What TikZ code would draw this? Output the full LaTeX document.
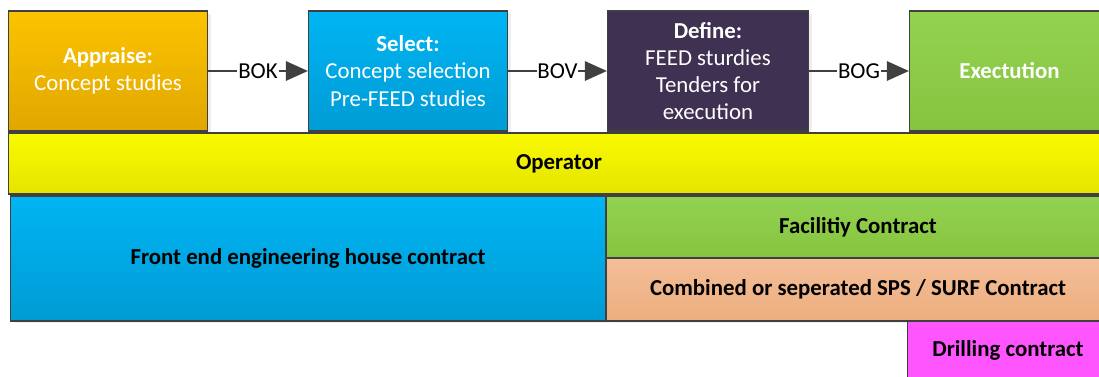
\documentclass[tikz,border=0pt]{standalone}
\usepackage{fontspec}
\setmainfont{Carlito}
\usetikzlibrary{arrows.meta,positioning,shadows}

\definecolor{edgegray}{HTML}{404040}
\definecolor{appraisetop}{HTML}{FCC300}
\definecolor{appraisebot}{HTML}{E0A700}
\definecolor{selecttop}{HTML}{00B5F3}
\definecolor{selectbot}{HTML}{009BD5}
\definecolor{definefill}{HTML}{3F3151}
\definecolor{greentop}{HTML}{93D251}
\definecolor{greenbot}{HTML}{86C43F}
\definecolor{optop}{HTML}{FAFA00}
\definecolor{opbot}{HTML}{E4E400}
\definecolor{peachtop}{HTML}{F4BE98}
\definecolor{peachbot}{HTML}{ECAE7E}
\definecolor{drillfill}{HTML}{FF55FF}

\begin{document}
\begin{tikzpicture}[x=0.02cm,y=-0.02cm,
  font=\fontsize{13}{15.5}\selectfont,
  box/.style={draw=edgegray,line width=0.6pt,align=center,inner sep=2pt,
    drop shadow={shadow xshift=0.07cm,shadow yshift=-0.05cm,fill=black!13}},
  phase/.style={box,text=white,minimum width=3.98cm,minimum height=2.4cm},
  bar/.style={box,font=\fontsize{13}{15.5}\selectfont\bfseries},
  gate/.style={fill=white,inner sep=0.5pt},
  flow/.style={draw=edgegray,line width=1.6pt,-{Triangle[length=0.44cm,width=0.38cm]}}]

\useasboundingbox (0,0) rectangle (1099,377);
\clip (0,0) rectangle (1099,377);

% phases
\node[phase,top color=appraisetop,bottom color=appraisebot] (appraise) at (108,71)
  {\textbf{Appraise:}\\Concept studies};
\node[phase,top color=selecttop,bottom color=selectbot,right=2.0cm of appraise] (select)
  {\textbf{Select:}\\Concept selection\\Pre-FEED studies};
\node[phase,fill=definefill,right=1.98cm of select,minimum width=4.02cm] (define)
  {\textbf{Define:}\\FEED sturdies\\Tenders for\\execution};
\node[phase,top color=greentop,bottom color=greenbot,right=2.0cm of define,minimum width=4cm] (execute)
  {\textbf{Exectution}};

% decision gates
\draw[flow] (appraise) -- node[gate] {BOK} (select);
\draw[flow] (select) -- node[gate] {BOV} (define);
\draw[flow] (define) -- node[gate] {BOG} (execute);

% contract bars
\node[bar,top color=optop,bottom color=opbot,minimum width=22.04cm,minimum height=1.22cm]
  (operator) at (559,163.5) {Operator};
\node[bar,top color=selecttop,bottom color=selectbot,minimum width=11.92cm,minimum height=2.5cm]
  (feed) at (308,258.5) {Front end engineering house contract};
\node[bar,top color=greentop,bottom color=greenbot,minimum width=10.08cm,minimum height=1.24cm]
  (facility) at (858,227) {Facilitiy Contract};
\node[bar,top color=peachtop,bottom color=peachbot,minimum width=10.08cm,minimum height=1.26cm]
  (surf) at (858,289.5) {Combined or seperated SPS / SURF Contract};
\node[bar,fill=drillfill,minimum width=4.04cm,minimum height=1.18cm]
  (drilling) at (1008,350.5) {Drilling contract};
\end{tikzpicture}
\end{document}
